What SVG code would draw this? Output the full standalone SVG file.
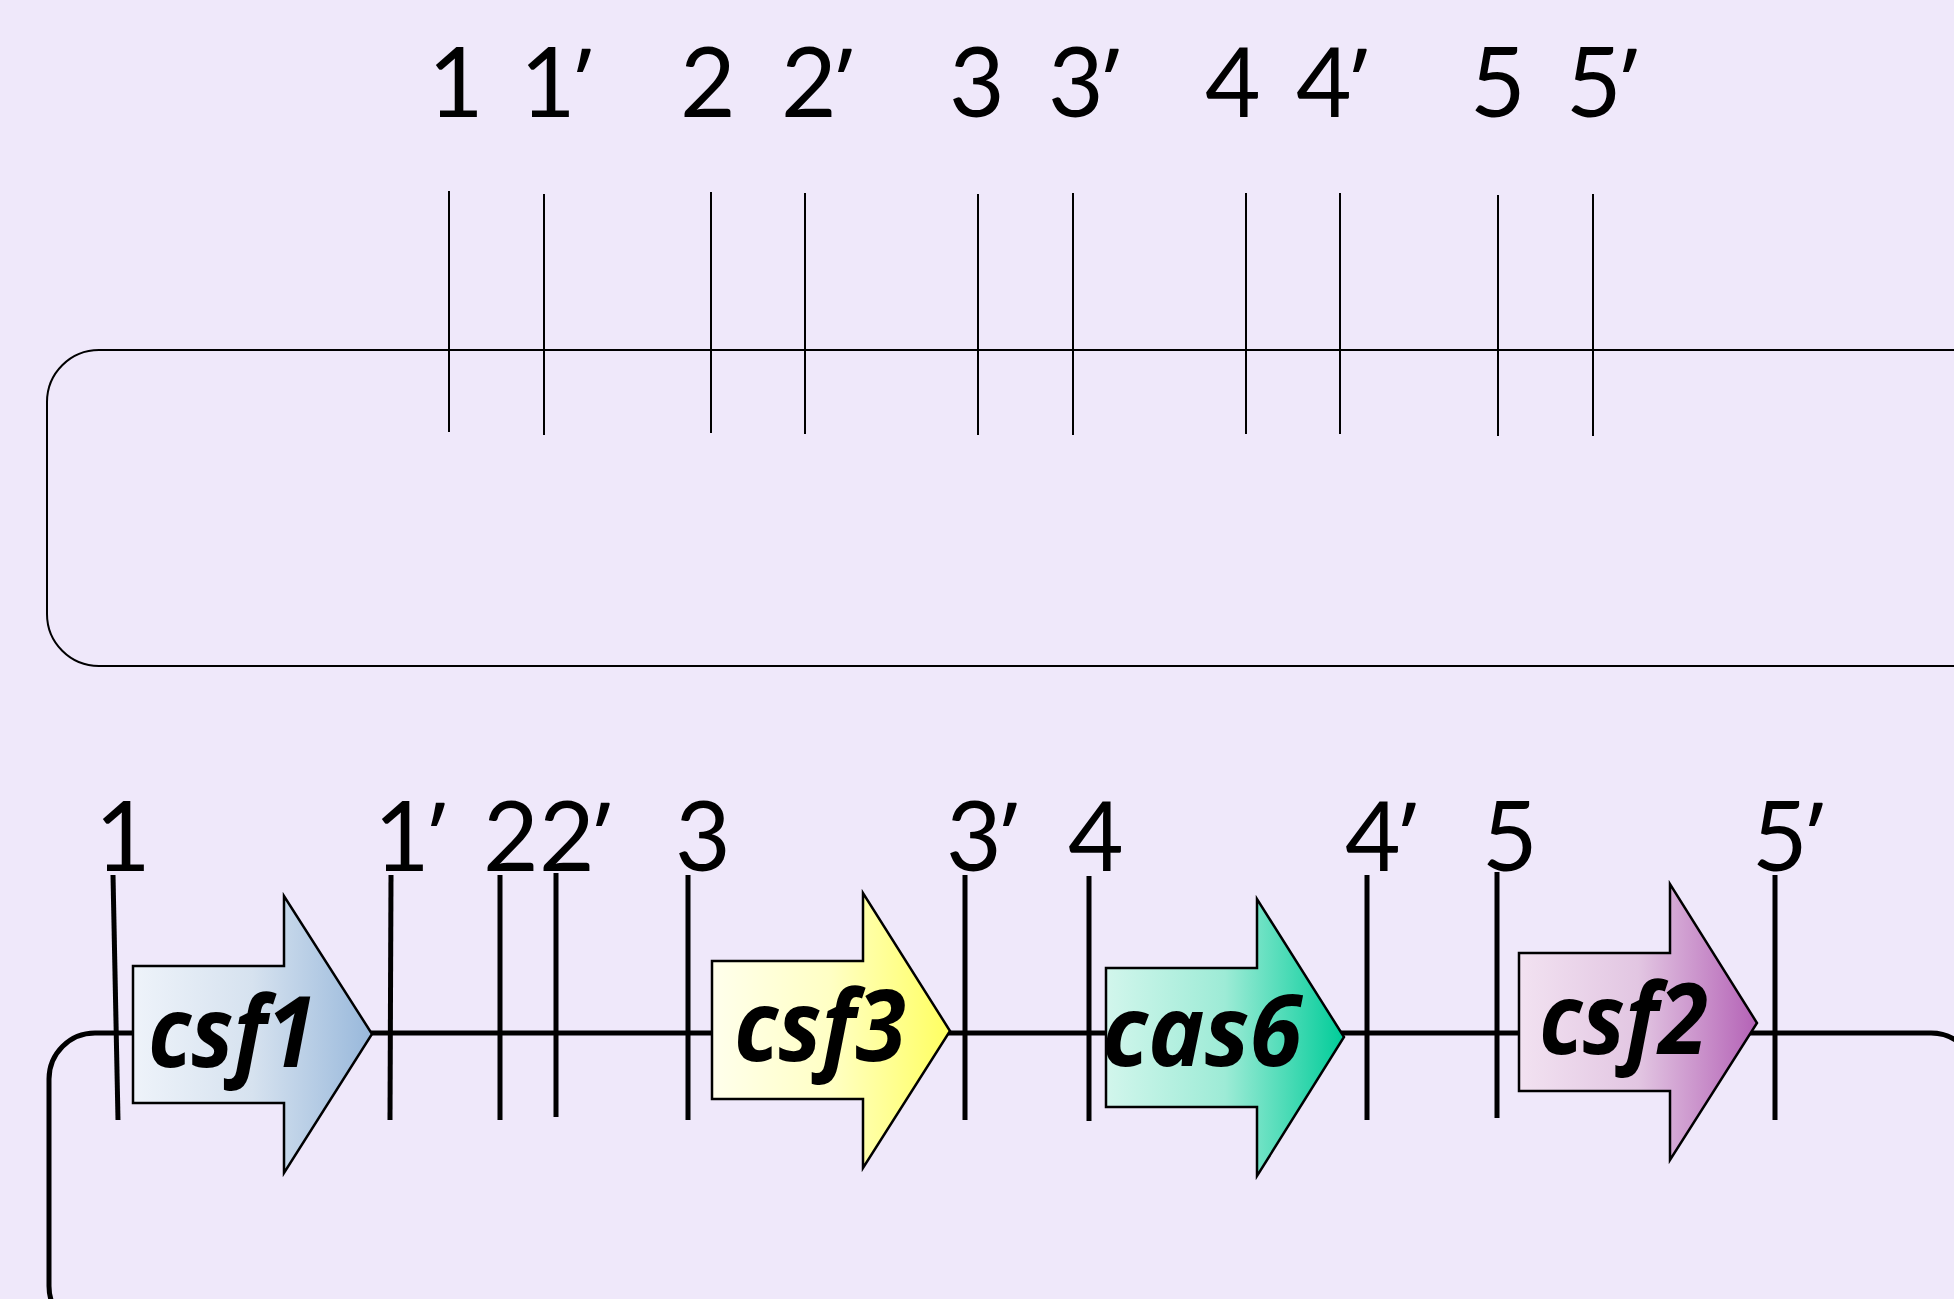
<svg xmlns="http://www.w3.org/2000/svg" width="1954" height="1299" viewBox="0 0 1954 1299">
<style>
.lbl{font-family:Lato,"Open Sans","Liberation Sans",sans-serif;font-size:96px;fill:#000}
.p{font-family:"Open Sans","Noto Sans","Liberation Sans",sans-serif}
.gene{font-family:"Open Sans","Noto Sans","Liberation Sans",sans-serif;font-size:98px;font-weight:bold;font-style:italic;fill:#000}
.thin{stroke:#000;stroke-width:2;fill:none}
.thick{stroke:#000;stroke-width:5;fill:none}
.arrow{stroke:#000;stroke-width:2.5;stroke-linejoin:miter}
</style>
<defs>
<linearGradient id="gBlue" x1="0" y1="0" x2="1" y2="0"><stop offset="0" stop-color="#EEF3FA"/><stop offset="0.5" stop-color="#D6E2EF"/><stop offset="1" stop-color="#98B8DB"/></linearGradient>
<linearGradient id="gYellow" x1="0" y1="0" x2="1" y2="0"><stop offset="0" stop-color="#FFFFEC"/><stop offset="0.5" stop-color="#FFFFC4"/><stop offset="1" stop-color="#FFFF60"/></linearGradient>
<linearGradient id="gGreen" x1="0" y1="0" x2="1" y2="0"><stop offset="0" stop-color="#D2F6EC"/><stop offset="0.5" stop-color="#9DEBD6"/><stop offset="1" stop-color="#00CC99"/></linearGradient>
<linearGradient id="gPink" x1="0" y1="0" x2="1" y2="0"><stop offset="0" stop-color="#F2E2F1"/><stop offset="0.5" stop-color="#E2C6E2"/><stop offset="1" stop-color="#B462B6"/></linearGradient>
</defs>
<rect x="0" y="0" width="1954" height="1299" fill="#EFE8FA"/>

<g id="connectors">
  <path class="thin" d="M1960,350 H99 A52,52 0 0 0 47,402 V614 A52,52 0 0 0 99,666 H1960"/>
  <g id="top-ticks" class="thin">
    <line x1="449" y1="191" x2="449" y2="432"/>
    <line x1="544" y1="194" x2="544" y2="435"/>
    <line x1="711" y1="192" x2="711" y2="433"/>
    <line x1="805" y1="193" x2="805" y2="434"/>
    <line x1="978" y1="194" x2="978" y2="435"/>
    <line x1="1073" y1="193" x2="1073" y2="435"/>
    <line x1="1246" y1="193" x2="1246" y2="434"/>
    <line x1="1340" y1="193" x2="1340" y2="434"/>
    <line x1="1498" y1="195" x2="1498" y2="436"/>
    <line x1="1593" y1="194" x2="1593" y2="436"/>
  </g>
  <path class="thick" d="M1977,1079 A46,46 0 0 0 1931,1033 H95 A46,46 0 0 0 49,1079 V1286 A46,46 0 0 0 95,1332"/>
  <g id="bottom-ticks" class="thick">
    <line x1="113" y1="875" x2="118" y2="1120"/>
    <line x1="391" y1="875" x2="390" y2="1120"/>
    <line x1="500" y1="875" x2="500" y2="1120"/>
    <line x1="556" y1="873" x2="556" y2="1117"/>
    <line x1="688" y1="875" x2="688" y2="1120"/>
    <line x1="965" y1="875" x2="965" y2="1120"/>
    <line x1="1089" y1="876" x2="1089" y2="1121"/>
    <line x1="1367" y1="875" x2="1367" y2="1120"/>
    <line x1="1497" y1="872" x2="1497" y2="1118"/>
    <line x1="1775" y1="875" x2="1775" y2="1120"/>
  </g>
</g>

<g id="top-labels" class="lbl">
  <text x="428" y="117">1</text>
  <text x="520" y="117">1<tspan class="p">’</tspan></text>
  <text x="680" y="117">2</text>
  <text x="781" y="117">2<tspan class="p">’</tspan></text>
  <text x="949" y="117">3</text>
  <text x="1048" y="117">3<tspan class="p">’</tspan></text>
  <text x="1205" y="117">4</text>
  <text x="1296" y="117">4<tspan class="p">’</tspan></text>
  <text x="1470" y="117">5</text>
  <text x="1566" y="117">5<tspan class="p">’</tspan></text>
</g>

<g id="bottom-labels" class="lbl">
  <text x="95" y="871">1</text>
  <text x="374" y="871">1<tspan class="p">’</tspan></text>
  <text x="483" y="871">2</text>
  <text x="539" y="871">2<tspan class="p">’</tspan></text>
  <text x="675" y="871">3</text>
  <text x="946" y="871">3<tspan class="p">’</tspan></text>
  <text x="1068" y="871">4</text>
  <text x="1345" y="871">4<tspan class="p">’</tspan></text>
  <text x="1482" y="871">5</text>
  <text x="1752" y="871">5<tspan class="p">’</tspan></text>
</g>

<g id="csf1">
  <path class="arrow" fill="url(#gBlue)" d="M133,966 H284 V896 L372,1034 L284,1173 V1103 H133 Z"/>
  <text class="gene" x="148" y="1067" textLength="168" lengthAdjust="spacingAndGlyphs">csf1</text>
</g>
<g id="csf3">
  <path class="arrow" fill="url(#gYellow)" d="M712,961 H863 V893 L950,1031 L863,1168 V1099 H712 Z"/>
  <text class="gene" x="734" y="1061" textLength="172" lengthAdjust="spacingAndGlyphs">csf3</text>
</g>
<g id="cas6">
  <path class="arrow" fill="url(#gGreen)" d="M1106,968 H1257 V899 L1344,1037 L1257,1176 V1107 H1106 Z"/>
  <text class="gene" x="1102" y="1066" textLength="200" lengthAdjust="spacingAndGlyphs">cas6</text>
</g>
<g id="csf2">
  <path class="arrow" fill="url(#gPink)" d="M1519,953 H1670 V884 L1757,1023 L1670,1160 V1091 H1519 Z"/>
  <text class="gene" x="1539" y="1054" textLength="169" lengthAdjust="spacingAndGlyphs">csf2</text>
</g>
</svg>
